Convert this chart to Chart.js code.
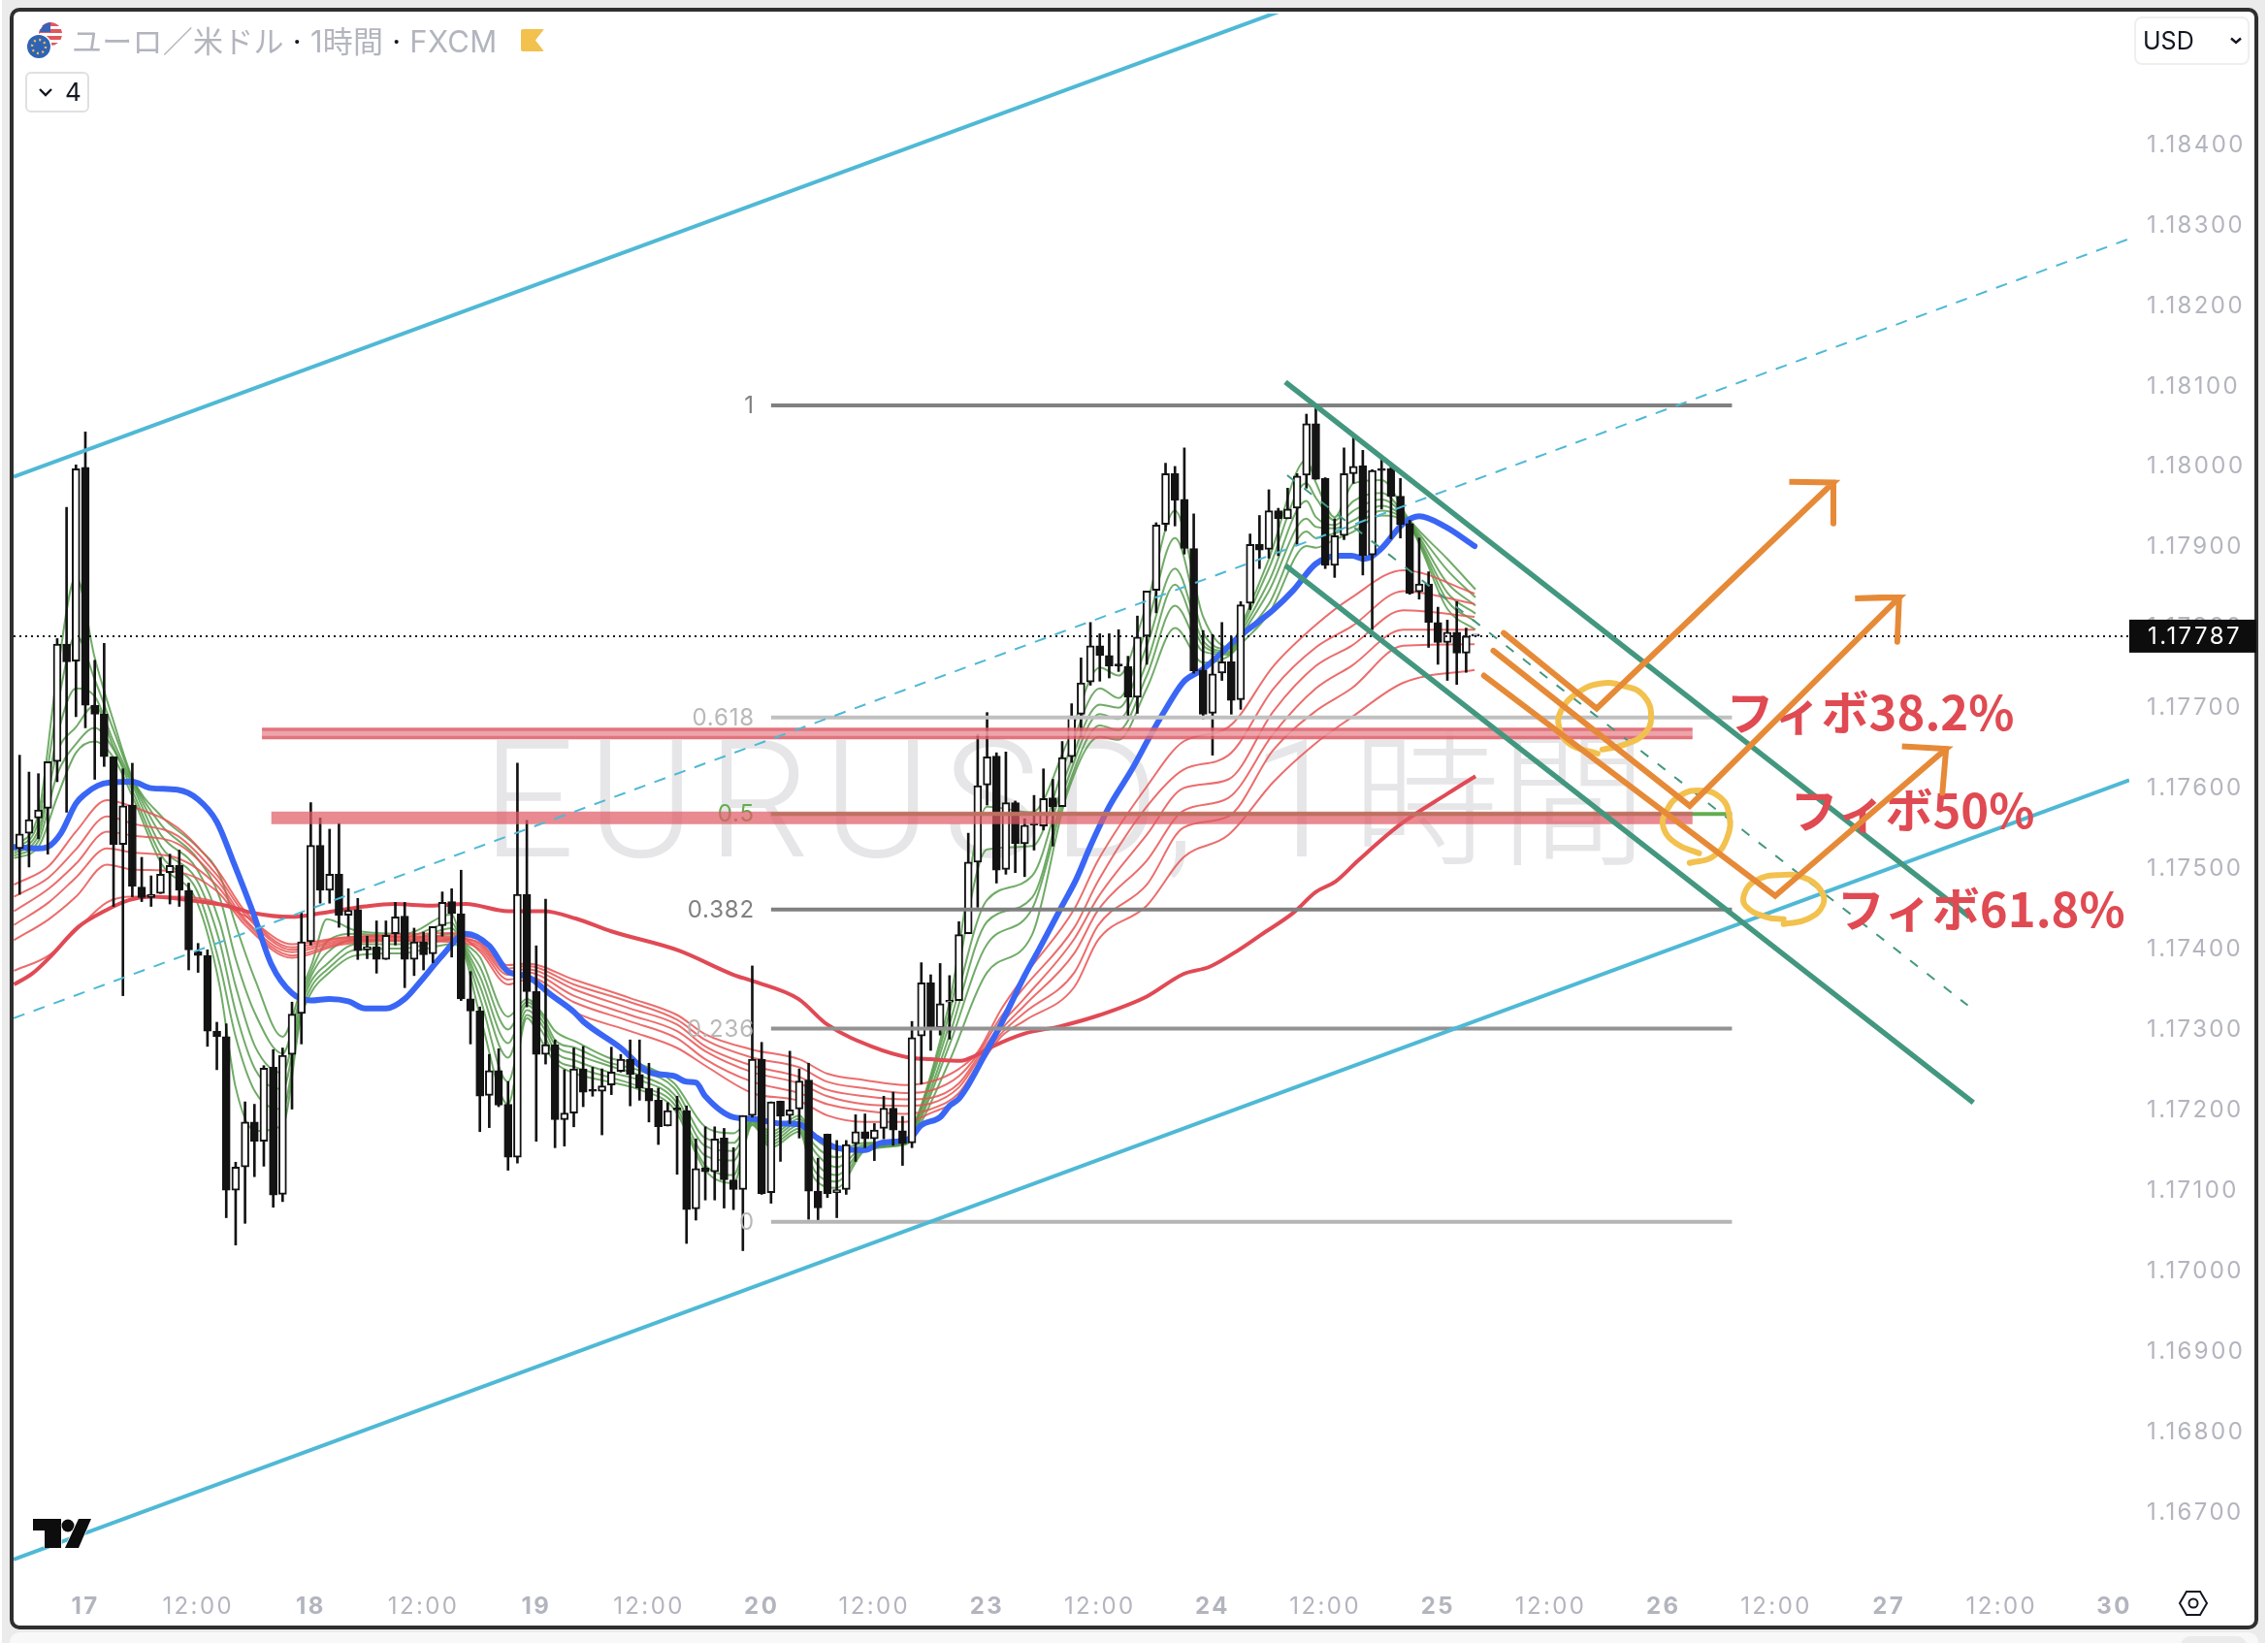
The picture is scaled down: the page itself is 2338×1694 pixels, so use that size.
<!DOCTYPE html>
<html lang="ja">
<head>
<meta charset="utf-8">
<title>EURUSD 1時間</title>
<script src="https://cdn.jsdelivr.net/npm/chart.js@4/dist/chart.umd.min.js"></script>
<style>
    html, body { margin: 0; padding: 0; background: #ebebeb; }
    body { position: relative; width: 2338px; height: 1694px; overflow: hidden; font-family: Inter, 'Noto Sans CJK JP', sans-serif; }
    .edge-left { position: absolute; left: 0; top: 0; width: 2px; height: 1694px; background: #fff; }
    .edge-right { position: absolute; left: 2335px; top: 0; width: 3px; height: 1694px; background: #fff; }
    .under { position: absolute; left: 10px; top: 1683px; width: 2318px; height: 30px; background: #f8f8f8; border-radius: 10px; }
    .pill { position: absolute; left: 2248px; top: 1687px; width: 68px; height: 30px; background: #ebebeb; border-radius: 10px; }
    .frame { position: absolute; left: 10px; top: 8px; width: 2310px; height: 1664px; background: #fff; border: 4px solid #2f2f2f; border-radius: 10px; }
    canvas { position: absolute; left: 0; top: 0; }
    .title { position: absolute; left: 74px; top: 24px; font-size: 31px; line-height: 38px; letter-spacing: 0.25px; color: #b2b5be; white-space: nowrap; }
    .title b { color: #131722; font-weight: 400; }
    .flags { position: absolute; left: 26px; top: 22px; }
    .marker { position: absolute; left: 537px; top: 30px; width: 24px; height: 23px; background: #f2c14e; clip-path: polygon(0 0, 100% 0, 62% 50%, 100% 100%, 0 100%); border-radius: 2px; }
    .btn { position: absolute; left: 26px; top: 74px; width: 62px; height: 38px; border: 2px solid #e0e0e0; border-radius: 6px; background: #fff; font-size: 26px; line-height: 38px; color: #131722; }
    .btn span { position: absolute; left: 39px; }
    .btn svg { position: absolute; left: 11px; top: 14px; }
    .usd { position: absolute; left: 2200px; top: 17px; width: 115px; height: 46px; border: 2px solid #efefef; border-radius: 8px; background: #fff; font-size: 25px; line-height: 46px; color: #131722; }
    .usd span { position: absolute; left: 7px; }
    .usd svg { position: absolute; left: 97px; top: 19px; }
    .logo { position: absolute; left: 34px; top: 1566px; }
    .gear { position: absolute; left: 2245px; top: 1638px; }
</style>
</head>
<body>
<div class="edge-left"></div>
<div class="edge-right"></div>
<div class="under"></div>
<div class="pill"></div>
<div class="frame"></div>
<canvas id="priceChart" width="2338" height="1694"></canvas>

<svg class="flags" width="44" height="42" viewBox="0 0 44 42">
    <circle cx="26" cy="13" r="12" fill="#e0585c"/>
    <path d="M15 5H37V8H15ZM15 12H38V15H15ZM15 19H36V22H15Z" fill="#fff"/>
    <path d="M26 1A12 12 0 0 0 15 11H26Z" fill="#3a62b8"/>
    <circle cx="14" cy="26" r="13.5" fill="#fff"/>
    <circle cx="14" cy="26" r="12" fill="#2f63b5"/>
    <circle cx="14" cy="26" r="7" fill="none" stroke="#f2c14e" stroke-width="2.4" stroke-dasharray="2 3.5"/>
</svg>
<div class="title">ユーロ／米ドル <b>·</b> 1時間 <b>·</b> FXCM</div>
<div class="marker"></div>
<div class="btn"><svg width="16" height="10" viewBox="0 0 16 10"><path d="M2 2L8 8L14 2" fill="none" stroke="#131722" stroke-width="2.4"/></svg><span>4</span></div>
<div class="usd"><span>USD</span><svg width="12" height="8" viewBox="0 0 12 8"><path d="M1 1.5L6 6L11 1.5" fill="none" stroke="#131722" stroke-width="2.4"/></svg></div>
<svg class="logo" width="60" height="30" viewBox="0 0 60 30">
    <g fill="#0d0d0d" stroke="#fff" stroke-width="1.5" paint-order="stroke">
        <path d="M0 0H29V30H12V12H0Z"/><circle cx="36" cy="7" r="6.5"/><path d="M47 0H60L47 30H33Z"/>
    </g>
</svg>
<svg class="gear" width="32" height="30" viewBox="0 0 32 30">
    <path d="M9 3H23L30 15L23 27H9L2 15Z" fill="none" stroke="#131722" stroke-width="2"/>
    <circle cx="16" cy="15" r="4.5" fill="none" stroke="#131722" stroke-width="2"/>
</svg>

<script>
// Axis ticks
const tickBars = [0, 12, 24, 36, 48, 60, 72, 84, 96, 108, 120, 132, 144, 156, 168, 180, 192, 204, 216];
const tickLabels = ['17', '12:00', '18', '12:00', '19', '12:00', '20', '12:00', '23', '12:00', '24', '12:00', '25', '12:00', '26', '12:00', '27', '12:00', '30'];
const priceTicks = [1.167, 1.168, 1.169, 1.17, 1.171, 1.172, 1.173, 1.174, 1.175, 1.176, 1.177, 1.178, 1.179, 1.18, 1.181, 1.182, 1.183, 1.184];
const currentPrice = 1.17787;

// Candles, one hourly bar each, first bar is at index -7
const firstBar = -7;
const opens = [
    1.17523, 1.17542, 1.17561, 1.17573, 1.17631, 1.17777, 1.17756,
    1.17997, 1.17701, 1.17690, 1.17637, 1.17528, 1.17577, 1.17475, 1.17462, 1.17467, 1.17493, 1.17502, 1.17471,
    1.17395, 1.17390, 1.17296, 1.17289, 1.17098, 1.17127, 1.17183, 1.17159, 1.17251, 1.17093, 1.17267, 1.17318,
    1.17407, 1.17527, 1.17471, 1.17491, 1.17440, 1.17447, 1.17397, 1.17401, 1.17385, 1.17417, 1.17439, 1.17385,
    1.17407, 1.17392, 1.17427, 1.17457, 1.17442, 1.17336, 1.17321, 1.17216, 1.17247, 1.17205, 1.17139, 1.17466,
    1.17345, 1.17267, 1.17279, 1.17186, 1.17194, 1.17249, 1.17222, 1.17221, 1.17229, 1.17246, 1.17261, 1.17242,
    1.17225, 1.17210, 1.17178, 1.17199, 1.17197, 1.17075, 1.17126, 1.17121, 1.17163, 1.17111, 1.17099, 1.17191,
    1.17261, 1.17095, 1.17209, 1.17191, 1.17199, 1.17235, 1.17097, 1.17168, 1.17095, 1.17099, 1.17156, 1.17171,
    1.17162, 1.17175, 1.17200, 1.17172, 1.17157, 1.17290, 1.17356, 1.17300, 1.17332, 1.17334, 1.17417, 1.17506,
    1.17602, 1.17638, 1.17497, 1.17580, 1.17529, 1.17553, 1.17551, 1.17586, 1.17575, 1.17637, 1.17690, 1.17730,
    1.17775, 1.17763, 1.17751, 1.17749, 1.17711, 1.17787, 1.17844, 1.17926, 1.17989, 1.17957, 1.17896, 1.17745,
    1.17691, 1.17741, 1.17755, 1.17708, 1.17828, 1.17901, 1.17895, 1.17943, 1.17933, 1.17946, 1.17987, 1.18051,
    1.17983, 1.17875, 1.17912, 1.17989, 1.17999, 1.17888, 1.17995, 1.17995, 1.17961, 1.17927, 1.17842, 1.17852,
    1.17804, 1.17779, 1.17792, 1.17766, 1.17787
];
const highs = [
    1.17639, 1.17618, 1.17616, 1.17631, 1.17784, 1.17947, 1.18000,
    1.18041, 1.17757, 1.17778, 1.17637, 1.17622, 1.17629, 1.17512, 1.17489, 1.17512, 1.17516, 1.17521, 1.17480,
    1.17405, 1.17397, 1.17307, 1.17305, 1.17133, 1.17208, 1.17205, 1.17253, 1.17273, 1.17275, 1.17332, 1.17443,
    1.17580, 1.17561, 1.17547, 1.17554, 1.17473, 1.17461, 1.17414, 1.17433, 1.17433, 1.17456, 1.17456, 1.17424,
    1.17419, 1.17426, 1.17469, 1.17473, 1.17496, 1.17370, 1.17326, 1.17267, 1.17274, 1.17233, 1.17629, 1.17558,
    1.17402, 1.17460, 1.17285, 1.17248, 1.17275, 1.17277, 1.17251, 1.17249, 1.17276, 1.17267, 1.17285, 1.17285,
    1.17256, 1.17225, 1.17207, 1.17215, 1.17203, 1.17162, 1.17177, 1.17177, 1.17175, 1.17151, 1.17191, 1.17377,
    1.17282, 1.17208, 1.17209, 1.17271, 1.17249, 1.17256, 1.17138, 1.17168, 1.17160, 1.17160, 1.17192, 1.17193,
    1.17181, 1.17215, 1.17220, 1.17190, 1.17308, 1.17381, 1.17366, 1.17380, 1.17365, 1.17432, 1.17542, 1.17665,
    1.17692, 1.17642, 1.17643, 1.17582, 1.17560, 1.17589, 1.17622, 1.17609, 1.17656, 1.17703, 1.17760, 1.17804,
    1.17790, 1.17790, 1.17795, 1.17762, 1.17812, 1.17843, 1.17928, 1.18002, 1.17998, 1.18021, 1.17939, 1.17794,
    1.17789, 1.17804, 1.17787, 1.17830, 1.17914, 1.17937, 1.17969, 1.17946, 1.17971, 1.17989, 1.18063, 1.18074,
    1.17984, 1.17933, 1.18021, 1.18035, 1.18018, 1.17994, 1.18008, 1.17998, 1.17983, 1.17931, 1.17909, 1.17867,
    1.17823, 1.17807, 1.17830, 1.17797, 1.17787
];
const lows = [
    1.17466, 1.17500, 1.17535, 1.17516, 1.17606, 1.17568, 1.17687,
    1.17673, 1.17609, 1.17625, 1.17451, 1.17340, 1.17463, 1.17457, 1.17451, 1.17467, 1.17454, 1.17451, 1.17372,
    1.17369, 1.17277, 1.17248, 1.17064, 1.17030, 1.17057, 1.17115, 1.17128, 1.17077, 1.17084, 1.17199, 1.17280,
    1.17403, 1.17455, 1.17455, 1.17425, 1.17414, 1.17385, 1.17386, 1.17368, 1.17385, 1.17403, 1.17350, 1.17365,
    1.17372, 1.17381, 1.17414, 1.17388, 1.17334, 1.17280, 1.17171, 1.17176, 1.17202, 1.17123, 1.17132, 1.17326,
    1.17159, 1.17255, 1.17151, 1.17153, 1.17177, 1.17202, 1.17215, 1.17167, 1.17217, 1.17245, 1.17203, 1.17210,
    1.17183, 1.17155, 1.17178, 1.17118, 1.17032, 1.17061, 1.17086, 1.17086, 1.17076, 1.17074, 1.17023, 1.17189,
    1.17093, 1.17082, 1.17134, 1.17181, 1.17163, 1.17062, 1.17058, 1.17089, 1.17064, 1.17093, 1.17134, 1.17151,
    1.17135, 1.17162, 1.17154, 1.17129, 1.17151, 1.17230, 1.17272, 1.17291, 1.17286, 1.17334, 1.17417, 1.17450,
    1.17577, 1.17480, 1.17491, 1.17493, 1.17488, 1.17521, 1.17546, 1.17526, 1.17575, 1.17630, 1.17662, 1.17726,
    1.17731, 1.17735, 1.17743, 1.17685, 1.17691, 1.17752, 1.17816, 1.17918, 1.17924, 1.17889, 1.17741, 1.17684,
    1.17639, 1.17732, 1.17690, 1.17696, 1.17820, 1.17871, 1.17884, 1.17887, 1.17933, 1.17901, 1.17971, 1.17982,
    1.17871, 1.17860, 1.17907, 1.17977, 1.17863, 1.17795, 1.17945, 1.17908, 1.17909, 1.17839, 1.17833, 1.17773,
    1.17752, 1.17732, 1.17727, 1.17742, 1.17787
];
const closes = [
    1.17541, 1.17559, 1.17571, 1.17631, 1.17777, 1.17755, 1.17995,
    1.17701, 1.17690, 1.17637, 1.17528, 1.17576, 1.17476, 1.17462, 1.17466, 1.17491, 1.17502, 1.17471, 1.17397,
    1.17390, 1.17296, 1.17289, 1.17098, 1.17127, 1.17183, 1.17159, 1.17250, 1.17092, 1.17266, 1.17317, 1.17407,
    1.17527, 1.17471, 1.17491, 1.17440, 1.17446, 1.17396, 1.17401, 1.17385, 1.17415, 1.17438, 1.17385, 1.17407,
    1.17391, 1.17426, 1.17456, 1.17442, 1.17336, 1.17321, 1.17215, 1.17247, 1.17204, 1.17139, 1.17466, 1.17345,
    1.17267, 1.17279, 1.17186, 1.17194, 1.17249, 1.17220, 1.17221, 1.17228, 1.17245, 1.17261, 1.17242, 1.17225,
    1.17209, 1.17177, 1.17197, 1.17198, 1.17074, 1.17125, 1.17121, 1.17162, 1.17111, 1.17099, 1.17191, 1.17261,
    1.17094, 1.17208, 1.17190, 1.17198, 1.17234, 1.17097, 1.17076, 1.17094, 1.17099, 1.17155, 1.17171, 1.17162,
    1.17173, 1.17200, 1.17173, 1.17156, 1.17288, 1.17356, 1.17300, 1.17330, 1.17333, 1.17416, 1.17506, 1.17601,
    1.17637, 1.17496, 1.17580, 1.17529, 1.17552, 1.17552, 1.17585, 1.17575, 1.17636, 1.17688, 1.17729, 1.17775,
    1.17763, 1.17750, 1.17750, 1.17711, 1.17786, 1.17843, 1.17925, 1.17989, 1.17956, 1.17896, 1.17744, 1.17690,
    1.17740, 1.17755, 1.17707, 1.17826, 1.17901, 1.17894, 1.17943, 1.17933, 1.17945, 1.17986, 1.18051, 1.17982,
    1.17875, 1.17912, 1.17989, 1.17998, 1.17887, 1.17993, 1.17993, 1.17961, 1.17926, 1.17840, 1.17852, 1.17804,
    1.17779, 1.17792, 1.17766, 1.17787, 1.17787
];

// Blue moving average
const blueBars = [-7.6, -5, -4, -2.6, -1, 0, 1.3, 2.6, 5, 7, 9.8, 12, 14, 15.7, 17.8, 19.8, 22, 24, 26, 28, 29.8, 32, 34, 35.7, 38, 40.5, 43, 45, 47, 49.7, 52, 53, 57, 60, 62.7, 64, 65, 66, 69, 71, 74, 76, 77.7, 80, 83, 84.7, 87.7, 89, 91, 92, 93, 94, 96, 97.5, 100, 101.5, 104, 105.5, 107, 109, 111.4, 113.5, 114.9, 116.9, 119, 123, 126.5, 128.6, 131, 133.4, 134.8, 136.2, 137.9, 140.3, 142, 144.8, 147.9];
const blueValues = [1.17525, 1.17523, 1.17525, 1.17542, 1.17579, 1.17591, 1.17601, 1.17605, 1.17606, 1.17598, 1.17596, 1.17584, 1.17556, 1.17508, 1.17445, 1.17379, 1.17343, 1.17334, 1.17336, 1.17333, 1.17324, 1.17324, 1.17336, 1.17358, 1.17390, 1.17417, 1.17402, 1.17370, 1.17364, 1.17340, 1.17320, 1.17308, 1.17275, 1.17245, 1.17240, 1.17233, 1.17232, 1.17215, 1.17189, 1.17187, 1.17181, 1.17180, 1.17165, 1.17151, 1.17148, 1.17157, 1.17162, 1.17179, 1.17189, 1.17203, 1.17212, 1.17229, 1.17272, 1.17305, 1.17365, 1.17397, 1.17452, 1.17485, 1.17526, 1.17575, 1.17621, 1.17666, 1.17694, 1.17730, 1.17746, 1.17788, 1.17820, 1.17844, 1.17877, 1.17887, 1.17887, 1.17883, 1.17895, 1.17927, 1.17936, 1.17923, 1.17899];

// Thick red moving average
const slowBars = [-7.6, -5.7, -3.6, -0.8, 2, 4.7, 7.1, 11.6, 15, 17.8, 21.9, 25.3, 29.8, 32.9, 36.7, 40.5, 45, 48.8, 52.2, 56, 63.2, 69, 71.1, 75.9, 79, 83.9, 87.7, 90, 93.2, 94.5, 96.6, 100, 103.8, 108, 113, 116.9, 119.7, 122.8, 125.2, 128.6, 131, 133.1, 135.5, 140, 145, 148];
const slowValues = [1.17354, 1.17367, 1.17390, 1.17425, 1.17445, 1.17459, 1.17463, 1.17458, 1.17452, 1.17443, 1.17438, 1.17443, 1.17451, 1.17454, 1.17452, 1.17454, 1.17445, 1.17445, 1.17436, 1.17420, 1.17396, 1.17366, 1.17358, 1.17336, 1.17304, 1.17276, 1.17263, 1.17261, 1.17259, 1.17264, 1.17277, 1.17293, 1.17302, 1.17316, 1.17339, 1.17367, 1.17376, 1.17397, 1.17416, 1.17443, 1.17469, 1.17482, 1.17508, 1.17553, 1.17591, 1.17613];

// Thin red ribbon
const redBars = [-7.6, -3.9, -1, 2.3, 5, 9.8, 14, 17, 22, 27, 33, 39, 42, 45, 47, 52, 58, 63, 66, 71, 76, 79, 83, 87.3, 90, 93, 95, 97.5, 100, 105.3, 107.8, 113, 116.9, 121.7, 126.5, 131, 134.8, 140.3, 147.9];
const red1 = [1.17478, 1.17501, 1.17544, 1.17583, 1.17575, 1.17549, 1.17497, 1.17445, 1.17400, 1.17411, 1.17414, 1.17414, 1.17410, 1.17378, 1.17380, 1.17360, 1.17337, 1.17316, 1.17292, 1.17273, 1.17261, 1.17243, 1.17235, 1.17229, 1.17233, 1.17249, 1.17270, 1.17323, 1.17365, 1.17448, 1.17508, 1.17600, 1.17656, 1.17674, 1.17750, 1.17801, 1.17835, 1.17869, 1.17840];
const red2 = [1.17463, 1.17487, 1.17522, 1.17563, 1.17554, 1.17539, 1.17490, 1.17441, 1.17397, 1.17409, 1.17413, 1.17412, 1.17406, 1.17374, 1.17377, 1.17354, 1.17332, 1.17310, 1.17285, 1.17263, 1.17251, 1.17233, 1.17225, 1.17219, 1.17222, 1.17240, 1.17267, 1.17314, 1.17351, 1.17425, 1.17482, 1.17575, 1.17621, 1.17639, 1.17722, 1.17773, 1.17799, 1.17843, 1.17827];
const red3 = [1.17445, 1.17473, 1.17504, 1.17544, 1.17539, 1.17529, 1.17484, 1.17435, 1.17394, 1.17407, 1.17411, 1.17411, 1.17404, 1.17370, 1.17373, 1.17348, 1.17324, 1.17304, 1.17277, 1.17253, 1.17239, 1.17223, 1.17215, 1.17211, 1.17213, 1.17231, 1.17263, 1.17305, 1.17337, 1.17411, 1.17462, 1.17540, 1.17598, 1.17609, 1.17694, 1.17750, 1.17775, 1.17819, 1.17811];
const red4 = [1.17428, 1.17456, 1.17487, 1.17523, 1.17518, 1.17511, 1.17477, 1.17432, 1.17390, 1.17405, 1.17409, 1.17409, 1.17401, 1.17366, 1.17369, 1.17340, 1.17316, 1.17296, 1.17271, 1.17245, 1.17231, 1.17215, 1.17205, 1.17203, 1.17206, 1.17226, 1.17259, 1.17298, 1.17328, 1.17393, 1.17446, 1.17508, 1.17570, 1.17586, 1.17666, 1.17722, 1.17750, 1.17795, 1.17795];
const red5 = [1.17409, 1.17435, 1.17463, 1.17503, 1.17497, 1.17494, 1.17470, 1.17428, 1.17387, 1.17403, 1.17408, 1.17407, 1.17398, 1.17360, 1.17364, 1.17332, 1.17308, 1.17287, 1.17261, 1.17233, 1.17219, 1.17205, 1.17197, 1.17193, 1.17199, 1.17219, 1.17254, 1.17293, 1.17319, 1.17369, 1.17427, 1.17478, 1.17549, 1.17563, 1.17646, 1.17694, 1.17722, 1.17775, 1.17777];
const red6 = [1.17371, 1.17390, 1.17421, 1.17456, 1.17463, 1.17463, 1.17456, 1.17439, 1.17404, 1.17412, 1.17416, 1.17418, 1.17395, 1.17354, 1.17360, 1.17320, 1.17296, 1.17275, 1.17253, 1.17219, 1.17209, 1.17191, 1.17183, 1.17183, 1.17194, 1.17213, 1.17249, 1.17289, 1.17309, 1.17351, 1.17409, 1.17452, 1.17512, 1.17540, 1.17606, 1.17654, 1.17686, 1.17729, 1.17745];

// Thin green ribbon
const greenBars = [-7.6, -5, -3, -1, 1, 3, 5, 8.1, 11.9, 14.3, 16, 18.1, 21, 22.9, 24.1, 25.7, 28.8, 34, 39, 40, 42, 45, 47, 48.8, 50, 52.2, 55.7, 59, 62.7, 66, 69, 71, 73, 76, 77.6, 80, 83, 87.3, 88, 92, 96, 100.8, 104.5, 108, 110, 113, 116, 119, 121.7, 123, 126, 130, 131, 133, 135, 138, 141, 145, 148];
const green1 = [1.17525, 1.17566, 1.17740, 1.17861, 1.17760, 1.17681, 1.17611, 1.17563, 1.17525, 1.17490, 1.17428, 1.17359, 1.17289, 1.17345, 1.17379, 1.17435, 1.17421, 1.17417, 1.17441, 1.17412, 1.17388, 1.17314, 1.17336, 1.17316, 1.17296, 1.17283, 1.17263, 1.17255, 1.17231, 1.17177, 1.17169, 1.17187, 1.17171, 1.17191, 1.17163, 1.17149, 1.17157, 1.17162, 1.17173, 1.17332, 1.17575, 1.17568, 1.17654, 1.17748, 1.17738, 1.17827, 1.17943, 1.17811, 1.17773, 1.17799, 1.17883, 1.18006, 1.17978, 1.17935, 1.17977, 1.17981, 1.17931, 1.17883, 1.17845];
const green2 = [1.17522, 1.17556, 1.17698, 1.17788, 1.17733, 1.17670, 1.17609, 1.17552, 1.17511, 1.17462, 1.17386, 1.17317, 1.17268, 1.17338, 1.17372, 1.17407, 1.17417, 1.17413, 1.17431, 1.17410, 1.17376, 1.17298, 1.17332, 1.17312, 1.17285, 1.17275, 1.17257, 1.17247, 1.17225, 1.17163, 1.17157, 1.17186, 1.17167, 1.17187, 1.17155, 1.17139, 1.17155, 1.17161, 1.17171, 1.17319, 1.17522, 1.17526, 1.17636, 1.17722, 1.17710, 1.17799, 1.17909, 1.17791, 1.17771, 1.17795, 1.17871, 1.17977, 1.17959, 1.17931, 1.17955, 1.17965, 1.17929, 1.17869, 1.17835];
const green3 = [1.17520, 1.17546, 1.17663, 1.17722, 1.17712, 1.17656, 1.17606, 1.17539, 1.17497, 1.17431, 1.17352, 1.17276, 1.17244, 1.17331, 1.17366, 1.17393, 1.17410, 1.17408, 1.17424, 1.17408, 1.17364, 1.17281, 1.17328, 1.17306, 1.17279, 1.17267, 1.17253, 1.17241, 1.17217, 1.17153, 1.17147, 1.17184, 1.17163, 1.17183, 1.17147, 1.17127, 1.17153, 1.17159, 1.17169, 1.17305, 1.17459, 1.17489, 1.17618, 1.17702, 1.17698, 1.17775, 1.17871, 1.17781, 1.17768, 1.17791, 1.17855, 1.17955, 1.17935, 1.17925, 1.17943, 1.17957, 1.17928, 1.17853, 1.17825];
const green4 = [1.17517, 1.17539, 1.17642, 1.17674, 1.17701, 1.17649, 1.17602, 1.17525, 1.17483, 1.17407, 1.17320, 1.17248, 1.17224, 1.17324, 1.17359, 1.17379, 1.17404, 1.17404, 1.17417, 1.17406, 1.17352, 1.17263, 1.17322, 1.17300, 1.17271, 1.17259, 1.17245, 1.17235, 1.17211, 1.17141, 1.17135, 1.17183, 1.17159, 1.17179, 1.17135, 1.17117, 1.17151, 1.17157, 1.17166, 1.17291, 1.17432, 1.17462, 1.17606, 1.17690, 1.17684, 1.17754, 1.17851, 1.17775, 1.17766, 1.17787, 1.17843, 1.17933, 1.17923, 1.17921, 1.17931, 1.17949, 1.17926, 1.17841, 1.17815];
const green5 = [1.17514, 1.17532, 1.17615, 1.17653, 1.17673, 1.17646, 1.17595, 1.17514, 1.17470, 1.17379, 1.17289, 1.17220, 1.17199, 1.17317, 1.17352, 1.17372, 1.17397, 1.17399, 1.17410, 1.17404, 1.17338, 1.17233, 1.17316, 1.17292, 1.17263, 1.17251, 1.17239, 1.17227, 1.17205, 1.17129, 1.17117, 1.17181, 1.17155, 1.17175, 1.17123, 1.17109, 1.17149, 1.17156, 1.17164, 1.17279, 1.17404, 1.17448, 1.17596, 1.17676, 1.17670, 1.17738, 1.17825, 1.17768, 1.17764, 1.17783, 1.17827, 1.17917, 1.17909, 1.17915, 1.17923, 1.17943, 1.17925, 1.17831, 1.17805];
const green6 = [1.17511, 1.17525, 1.17587, 1.17642, 1.17656, 1.17636, 1.17588, 1.17504, 1.17456, 1.17352, 1.17226, 1.17172, 1.17179, 1.17310, 1.17345, 1.17366, 1.17390, 1.17393, 1.17404, 1.17400, 1.17316, 1.17205, 1.17312, 1.17279, 1.17257, 1.17243, 1.17233, 1.17223, 1.17199, 1.17123, 1.17107, 1.17179, 1.17151, 1.17171, 1.17113, 1.17101, 1.17147, 1.17155, 1.17162, 1.17259, 1.17369, 1.17416, 1.17590, 1.17662, 1.17658, 1.17722, 1.17797, 1.17754, 1.17762, 1.17777, 1.17815, 1.17899, 1.17897, 1.17907, 1.17917, 1.17937, 1.17923, 1.17821, 1.17795];

// Fibonacci retracement
const fibLabels = ['1', '0.618', '0.5', '0.382', '0.236', '0'];
const fibPrices = [1.18074, 1.17686, 1.17566, 1.17447, 1.17299, 1.17059];
const fibColors = ['#808080', '#c0c0c0', '#62ad4f', '#808080', '#929292', '#b5b5b5'];
const fibBars = [73, 175.3];

// Support zones
const zoneBars1 = [18.8, 171.1];
const zoneBars2 = [19.8, 171.1];
const zonePrice1 = 1.17666;
const zonePrice2 = 1.17561;

// Rising channel
const channelBars = [-7.64, 217.6];
const channelLow = [1.16639, 1.17608];
const channelMid = [1.17312, 1.18281];
const channelTopBars = [-7.64, 130];
const channelTop = [1.17985, 1.18576];

// Falling channel
const fallUpperBars = [127.75, 200.6];
const fallUpper = [1.18103, 1.17438];
const fallLowerBars = [127.75, 201];
const fallLower = [1.17875, 1.17207];
const fallMidBars = [127.95, 200.4];
const fallMid = [1.17987, 1.17328];

// Hand drawn arrows
const arrow1Bars = [151, 160.9, 186.1, 181.4, 186.1, 186.1];
const arrow1Prices = [1.17791, 1.17697, 1.17978, 1.17979, 1.17978, 1.17927];
const arrow2Bars = [149.9, 170.8, 193.1, 188.4, 193.1, 192.9];
const arrow2Prices = [1.17769, 1.17576, 1.17835, 1.17834, 1.17835, 1.17780];
const arrow3Bars = [148.9, 179.9, 198.1, 193.4, 198.1, 197.7];
const arrow3Prices = [1.17738, 1.17464, 1.17647, 1.17650, 1.17647, 1.17592];

// Hand drawn circles
const circle1Bars = [161.5, 163.8, 165.9, 166.7, 165.9, 163.8, 161.3, 158.8, 157.1, 156.9, 158, 161];
const circle1Prices = [1.17646, 1.17652, 1.17665, 1.17686, 1.17713, 1.17725, 1.17728, 1.17716, 1.17694, 1.17674, 1.17653, 1.17641];
const circle2Bars = [170.8, 173.3, 174.8, 175, 174.1, 172.1, 169.8, 168.3, 168, 169.4, 171.8];
const circle2Prices = [1.17505, 1.17513, 1.17537, 1.17565, 1.17586, 1.17595, 1.17589, 1.17569, 1.17549, 1.17529, 1.17517];
const circle3Bars = [180.8, 183.3, 185, 184.7, 182.9, 180.3, 177.8, 176.6, 176.8, 178.9, 180.8];
const circle3Prices = [1.17429, 1.17435, 1.17453, 1.17472, 1.17487, 1.17490, 1.17483, 1.17466, 1.17451, 1.17438, 1.17435];

// Notes next to the arrows
const noteTexts = ['フィボ38.2%', 'フィボ50%', 'フィボ61.8%'];
const noteBars = [174.7, 181.5, 186.5];
const notePrices = [1.17692, 1.17571, 1.17448];

const FONT = "Inter, 'Noto Sans CJK JP', sans-serif";
const CANDLE_DARK = '#131313';

// Build a line dataset from separate bar and price arrays
function lineSet(label, bars, values, color, width, order, extra) {
    return Object.assign({
        type: 'line',
        label: label,
        data: bars.map((bar, i) => ({ x: bar, y: values[i] })),
        borderColor: color,
        borderWidth: width,
        pointRadius: 0,
        tension: 0,
        fill: false,
        order: order
    }, extra || {});
}

// Flat line at one price
function levelSet(label, bars, price, color, width, order, extra) {
    return lineSet(label, bars, bars.map(() => price), color, width, order, extra);
}

const datasets = [];
const smooth = { cubicInterpolationMode: 'monotone' };

[green1, green2, green3, green4, green5, green6].forEach((values, i) => {
    datasets.push(lineSet('green ' + i, greenBars, values, 'rgba(78, 150, 66, 0.8)', 2, 20, smooth));
});
[red1, red2, red3, red4, red5, red6].forEach((values, i) => {
    datasets.push(lineSet('red ' + i, redBars, values, 'rgba(232, 84, 84, 0.85)', 2, 19, smooth));
});
datasets.push(lineSet('slow', slowBars, slowValues, '#e04a55', 4, 18, smooth));
datasets.push(lineSet('blue', blueBars, blueValues, '#3a66f5', 6, 17, { borderCapStyle: 'round', cubicInterpolationMode: 'monotone' }));

// Candles: a thin bar for the wick, a wide one for the body
datasets.push({
    type: 'bar',
    label: 'wicks',
    data: highs.map((high, i) => ({ x: firstBar + i, y: [lows[i], high] })),
    backgroundColor: CANDLE_DARK,
    barThickness: 2,
    grouped: false,
    order: 16
});
datasets.push({
    type: 'bar',
    label: 'bodies',
    data: opens.map((open, i) => ({ x: firstBar + i, y: [Math.min(open, closes[i]), Math.max(open, closes[i])] })),
    backgroundColor: opens.map((open, i) => closes[i] >= open ? '#ffffff' : CANDLE_DARK),
    borderColor: CANDLE_DARK,
    borderWidth: 2,
    borderSkipped: false,
    barThickness: 8,
    minBarLength: 2,
    grouped: false,
    order: 15
});

datasets.push(levelSet('last price', channelBars, currentPrice, '#131722', 2, 14, { borderDash: [2, 4] }));

fibPrices.forEach((price, i) => {
    datasets.push(levelSet('fib ' + fibLabels[i], fibBars, price, fibColors[i], 4, 13));
});

datasets.push(levelSet('zone 1', zoneBars1, zonePrice1, 'rgba(222, 92, 102, 0.85)', 12, 12));
datasets.push(levelSet('zone 1 inner', zoneBars1, zonePrice1, 'rgba(255, 255, 255, 0.35)', 5, 11));
datasets.push(levelSet('zone 2', zoneBars2, zonePrice2, 'rgba(224, 92, 102, 0.72)', 13, 12));

datasets.push(lineSet('channel low', channelBars, channelLow, '#4fb9d5', 4, 10));
datasets.push(lineSet('channel mid', channelBars, channelMid, '#4fb9d5', 2, 10, { borderDash: [12, 10] }));
datasets.push(lineSet('channel top', channelTopBars, channelTop, '#4fb9d5', 4, 10));
datasets.push(lineSet('fall upper', fallUpperBars, fallUpper, '#43977f', 5.5, 9));
datasets.push(lineSet('fall lower', fallLowerBars, fallLower, '#43977f', 5.5, 9));
datasets.push(lineSet('fall mid', fallMidBars, fallMid, '#43977f', 2, 8, { borderDash: [10, 12] }));

const circleStyle = { tension: 0.45, borderCapStyle: 'round' };
datasets.push(lineSet('circle 1', circle1Bars, circle1Prices, '#f2c14e', 6, 6, circleStyle));
datasets.push(lineSet('circle 2', circle2Bars, circle2Prices, '#f2c14e', 6, 6, circleStyle));
datasets.push(lineSet('circle 3', circle3Bars, circle3Prices, '#f2c14e', 6, 6, circleStyle));

const arrowStyle = { borderCapStyle: 'round', borderJoinStyle: 'miter' };
datasets.push(lineSet('arrow 1', arrow1Bars, arrow1Prices, '#e68a38', 6, 5, arrowStyle));
datasets.push(lineSet('arrow 2', arrow2Bars, arrow2Prices, '#e68a38', 6, 5, arrowStyle));
datasets.push(lineSet('arrow 3', arrow3Bars, arrow3Prices, '#e68a38', 6, 5, arrowStyle));

// Watermark behind everything, the parts are spaced like the original
const watermarkPlugin = {
    id: 'watermark',
    beforeDraw(chart) {
        // the axis text is set a little wide, has to be set here because
        // Chart.js resizes the canvas and that clears the context state
        chart.ctx.letterSpacing = '2.4px';
    },
    beforeDatasetsDraw(chart) {
        const ctx = chart.ctx;
        ctx.save();
        ctx.fillStyle = '#e6e6e8';
        ctx.textAlign = 'left';
        ctx.textBaseline = 'alphabetic';
        ctx.font = "300 168px Roboto, sans-serif";
        ctx.letterSpacing = '13px';
        ctx.fillText('EURUSD,', 497, 883);
        ctx.letterSpacing = '0px';
        ctx.fillText('1', 1290, 883);
        ctx.font = "300 152px 'Noto Sans CJK JP', sans-serif";
        ctx.fillText('時間', 1394, 880);
        ctx.restore();
    }
};

// Text that sits inside the chart: fib labels, notes, last price tag
const labelsPlugin = {
    id: 'labels',
    afterDatasetDraw(chart, args) {
        const label = chart.data.datasets[args.index].label;
        const x = chart.scales.x;
        const y = chart.scales.y;
        const ctx = chart.ctx;
        // fib labels go under the zones
        if (label === 'fib 1') {
            ctx.save();
            ctx.font = '24px ' + FONT;
            ctx.letterSpacing = '0.8px';
            ctx.textAlign = 'right';
            ctx.textBaseline = 'middle';
            fibLabels.forEach((text, i) => {
                ctx.fillStyle = i === 0 || i === 3 ? '#808080' : (i === 2 ? fibColors[2] : '#b8b8b8');
                ctx.fillText(text, x.getPixelForValue(fibBars[0]) - 17, y.getPixelForValue(fibPrices[i]) + 1);
            });
            ctx.restore();
        }
        // notes go over the falling channel, under the arrows
        if (label === 'fall mid') {
            ctx.save();
            ctx.font = "bold 49px 'Noto Sans CJK JP', sans-serif";
            ctx.letterSpacing = '0px';
            ctx.fillStyle = '#e04a52';
            ctx.textAlign = 'left';
            ctx.textBaseline = 'middle';
            noteTexts.forEach((text, i) => {
                ctx.fillText(text, x.getPixelForValue(noteBars[i]), y.getPixelForValue(notePrices[i]));
            });
            ctx.restore();
        }
    },
    afterDraw(chart) {
        const y = chart.scales.y.getPixelForValue(currentPrice);
        const ctx = chart.ctx;
        ctx.save();
        ctx.fillStyle = '#0d0d0d';
        ctx.fillRect(chart.chartArea.right, y - 17, 131, 34);
        ctx.fillStyle = '#ffffff';
        ctx.font = '24px ' + FONT;
        ctx.textAlign = 'left';
        ctx.textBaseline = 'middle';
        ctx.fillText(currentPrice.toFixed(5), chart.chartArea.right + 19, y + 1);
        ctx.restore();
    }
};

new Chart(document.getElementById('priceChart').getContext('2d'), {
    type: 'line',
    data: { datasets: datasets },
    options: {
        responsive: false,
        animation: false,
        devicePixelRatio: 1,
        events: [],
        layout: { padding: { left: 14, top: 14, right: 0, bottom: 0 } },
        plugins: { legend: { display: false }, tooltip: { enabled: false } },
        scales: {
            x: {
                type: 'linear',
                min: -7.642,
                max: 217.6,
                offset: false,
                grid: { display: false },
                border: { display: false },
                afterBuildTicks(scale) {
                    scale.ticks = tickBars.map(bar => ({ value: bar }));
                },
                afterFit(scale) {
                    scale.height = 62;
                    scale.paddingLeft = 0;
                    scale.paddingRight = 0;
                },
                ticks: {
                    autoSkip: false,
                    maxRotation: 0,
                    padding: 2,
                    color: '#b2b5be',
                    font: ctx => ({
                        family: FONT,
                        size: 24,
                        weight: ctx.tick && tickLabels[tickBars.indexOf(ctx.tick.value)] !== '12:00' ? 'bold' : 'normal'
                    }),
                    callback: value => tickLabels[tickBars.indexOf(value)]
                }
            },
            y: {
                type: 'linear',
                position: 'right',
                min: 1.1661,
                max: 1.18561,
                grid: { display: false },
                border: { display: false },
                afterBuildTicks(scale) {
                    scale.ticks = priceTicks.map(price => ({ value: price }));
                },
                afterFit(scale) {
                    scale.width = 143;
                    scale.paddingTop = 0;
                    scale.paddingBottom = 0;
                },
                ticks: {
                    padding: 10,
                    labelOffset: 2,
                    color: '#b2b5be',
                    font: { family: FONT, size: 24 },
                    callback: value => value.toFixed(5)
                }
            }
        }
    },
    plugins: [watermarkPlugin, labelsPlugin]
});
</script>
</body>
</html>
